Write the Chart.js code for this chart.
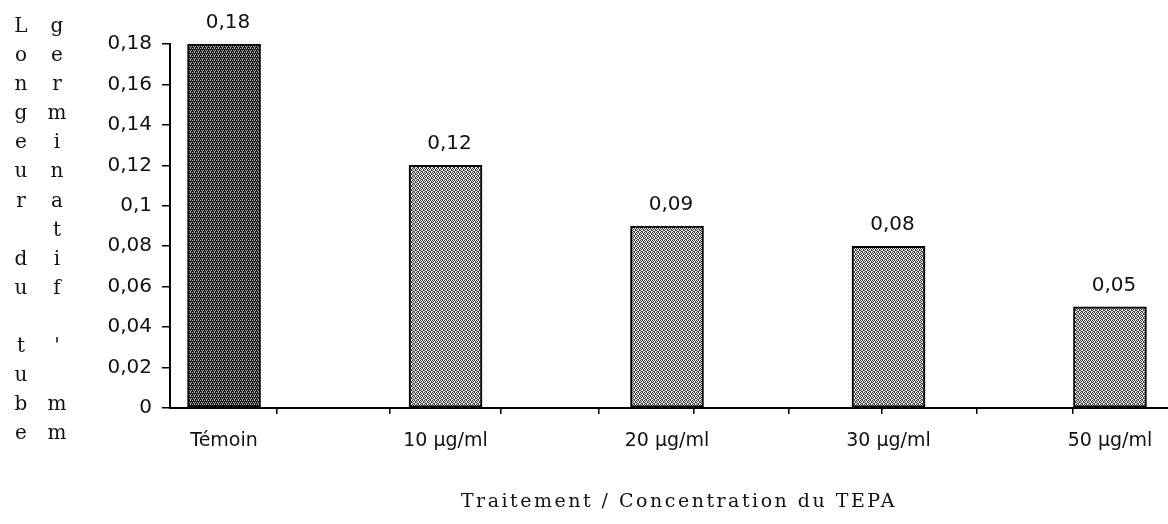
<!DOCTYPE html>
<html>
<head>
<meta charset="utf-8">
<script src="https://cdn.jsdelivr.net/npm/chart.js@4/dist/chart.umd.min.js"></script>
<style>
  html, body { margin: 0; padding: 0; background: #fff; }
  #wrap { position: relative; width: 1168px; height: 524px; overflow: hidden; }
  #c { position: absolute; left: 0; top: 0; }
  .col { position: absolute; top: 11px; width: 30px; text-align: center;
         font-family: "DejaVu Serif", serif; font-size: 20px; line-height: 29.1px; color: #111; }
  .col div { height: 29.1px; }
  #xtitle { position: absolute; left: 0; width: 1358px; top: 489px; text-align: center;
            font-family: "DejaVu Serif", serif; font-size: 19px; line-height: 22px;
            letter-spacing: 2.5px; color: #111; }
</style>
</head>
<body>
<div id="wrap">
  <canvas id="c" width="1168" height="524"></canvas>
  <div class="col" id="col1" style="left:6px"></div>
  <div class="col" id="col2" style="left:42px"></div>
  <div id="xtitle"></div>
</div>
<script>
// ---- data ----
const categories = ['Témoin', '10 µg/ml', '20 µg/ml', '30 µg/ml', '50 µg/ml'];
const values = [0.18, 0.12, 0.09, 0.08, 0.05];
const valueLabels = ['0,18', '0,12', '0,09', '0,08', '0,05'];
const yTickValues = [0, 0.02, 0.04, 0.06, 0.08, 0.1, 0.12, 0.14, 0.16, 0.18];
const yTickLabels = ['0', '0,02', '0,04', '0,06', '0,08', '0,1', '0,12', '0,14', '0,16', '0,18'];
// minor x-axis tick marks (in category units) as printed on the original
const xMarkTicks = [0.24, 0.75, 1.25, 1.69, 2.12, 2.55, 2.97, 3.40, 3.83];
const yTitleCol1 = ['L','o','n','g','e','u','r','','d','u','','t','u','b','e'];
const yTitleCol2 = ['g','e','r','m','i','n','a','t','i','f','',"'",'','m','m'];
const xTitle = 'Traitement / Concentration du TEPA';

// ---- axis title text (HTML) ----
function fillCol(id, letters) {
  const el = document.getElementById(id);
  letters.forEach(l => { const d = document.createElement('div'); d.textContent = l; el.appendChild(d); });
}
fillCol('col1', yTitleCol1);
fillCol('col2', yTitleCol2);
document.getElementById('xtitle').textContent = xTitle;

// ---- stipple patterns ----
function makePattern(bg, dot, pts) {
  const p = document.createElement('canvas');
  p.width = 4; p.height = 4;
  const g = p.getContext('2d');
  g.fillStyle = bg; g.fillRect(0, 0, 4, 4);
  g.fillStyle = dot;
  pts.forEach(([x, y]) => g.fillRect(x, y, 1, 1));
  return document.getElementById('c').getContext('2d').createPattern(p, 'repeat');
}
const darkFill = makePattern('#1e1e1e', '#a8a8a8', [[0,0],[2,0],[1,2],[3,2],[2,3]]);
const lightFill = makePattern('#ececec', '#3c3c3c', [[0,0],[2,0],[1,1],[3,2],[0,2],[2,3],[1,3],[3,1]]);

const valueLabelPlugin = {
  id: 'valueLabels',
  afterDatasetsDraw(chart) {
    const ctx = chart.ctx;
    const meta = chart.getDatasetMeta(0);
    ctx.save();
    ctx.font = '20px "DejaVu Sans", sans-serif';
    ctx.fillStyle = '#111';
    ctx.textAlign = 'center';
    ctx.textBaseline = 'alphabetic';
    meta.data.forEach((bar, i) => {
      ctx.fillText(valueLabels[i], bar.x + 4, bar.y - 16);
    });
    ctx.restore();
  }
};

function noSidePadding(axis) {
  axis.paddingLeft = 0;
  axis.paddingRight = 0;
}

const X_MIN = -0.244, X_MAX = 4.262;

new Chart(document.getElementById('c'), {
  type: 'bar',
  data: {
    datasets: [{
      data: values.map((v, i) => ({ x: i, y: v })),
      backgroundColor: values.map((v, i) => i === 0 ? darkFill : lightFill),
      borderColor: '#000',
      borderWidth: 2,
      borderSkipped: false,
      barThickness: 73
    }]
  },
  options: {
    responsive: false,
    animation: false,
    events: [],
    layout: { padding: { top: 44, right: 0, bottom: 0, left: 0 } },
    plugins: { legend: { display: false }, tooltip: { enabled: false } },
    scales: {
      x: {
        type: 'linear',
        offset: false,
        min: X_MIN,
        max: X_MAX,
        afterBuildTicks: axis => { axis.ticks = categories.map((c, i) => ({ value: i })); },
        afterFit: axis => { axis.height = 116; noSidePadding(axis); },
        ticks: {
          callback: v => categories[v] !== undefined ? categories[v] : '',
          font: { family: '"DejaVu Sans", sans-serif', size: 19 },
          color: '#111',
          padding: 22,
          maxRotation: 0,
          autoSkip: false
        },
        grid: { display: false, drawTicks: false, offset: false },
        border: { display: true, color: '#000', width: 2 }
      },
      xt: {
        type: 'linear',
        axis: 'x',
        position: { y: 0 },
        offset: false,
        min: X_MIN,
        max: X_MAX,
        afterBuildTicks: axis => { axis.ticks = xMarkTicks.map(v => ({ value: v })); },
        afterFit: noSidePadding,
        ticks: { display: false, autoSkip: false },
        grid: { drawOnChartArea: false, color: '#000', lineWidth: 1.5, tickLength: 6, offset: false },
        border: { display: false }
      },
      y: {
        min: 0,
        max: 0.18,
        afterBuildTicks: axis => { axis.ticks = yTickValues.map(v => ({ value: v })); },
        afterFit: axis => { axis.width = 170; },
        ticks: {
          callback: (v, i) => yTickLabels[i],
          font: { family: '"DejaVu Sans", sans-serif', size: 20 },
          color: '#111',
          padding: 10
        },
        grid: { drawOnChartArea: false, color: '#000', lineWidth: 1.5, tickLength: 8 },
        border: { display: true, color: '#000', width: 2 }
      }
    }
  },
  plugins: [valueLabelPlugin]
});
</script>
</body>
</html>
